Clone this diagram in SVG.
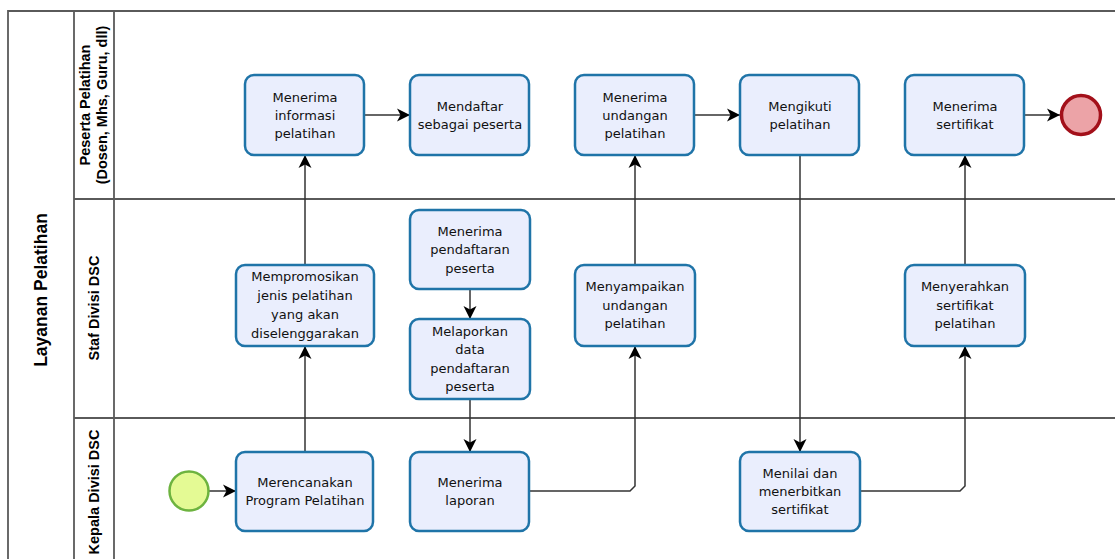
<svg xmlns="http://www.w3.org/2000/svg" width="1115" height="559" viewBox="0 0 1115 559">
<style>
.lane{stroke:#5a5a5a;stroke-width:1.8;fill:none}
.box{fill:#eaeefd;stroke:#1f74a8;stroke-width:2.5}
.t{font-family:"DejaVu Sans",sans-serif;font-size:13px;fill:#111;text-anchor:middle}
.lbl{font-family:"Liberation Sans",Arial,sans-serif;font-weight:bold;font-size:14.5px;fill:#000;text-anchor:middle}
.pool{font-family:"Liberation Sans",Arial,sans-serif;font-weight:bold;font-size:17.5px;fill:#000;text-anchor:middle}
.ca{stroke:#333;stroke-width:1.5;fill:none;marker-end:url(#arr)}
</style>
<defs>
<marker id="arr" markerUnits="userSpaceOnUse" markerWidth="14" markerHeight="14" viewBox="0 0 14 14" refX="13" refY="7" orient="auto">
<path d="M0,0.5 L13,7 L0,13.5 L3.5,7 Z" fill="#000"/>
</marker>
</defs>
<rect width="1115" height="559" fill="#fff"/>
<g id="pool">
<path class="lane" d="M8,559 V11 H1115 M74,11 V559 M114,11 V559 M74,199 H1115 M74,418 H1115"/>
<text class="pool" transform="translate(41,290) rotate(-90)" y="6">Layanan Pelatihan</text>
<text class="lbl" transform="translate(94,105) rotate(-90)"><tspan x="0" y="-4">Peserta Pelatihan</tspan><tspan x="0" y="13">(Dosen, Mhs, Guru, dll)</tspan></text>
<text class="lbl" transform="translate(94,308) rotate(-90)" y="5">Staf Divisi DSC</text>
<text class="lbl" transform="translate(94,492) rotate(-90)" y="5">Kepala Divisi DSC</text>
</g>
<g id="connectors">
<path class="ca" d="M209,491 H236"/>
<path class="ca" d="M305,452 V346"/>
<path class="ca" d="M305,265 V155"/>
<path class="ca" d="M364,115 H410"/>
<path class="ca" d="M470,289 V319"/>
<path class="ca" d="M470,399 V452"/>
<path class="ca" d="M529,491 H630 L635,486 V346"/>
<path class="ca" d="M635,265 V155"/>
<path class="ca" d="M695,115 H740"/>
<path class="ca" d="M800,155 V452"/>
<path class="ca" d="M860,491 H960 L965,486 V346"/>
<path class="ca" d="M965,265 V155"/>
<path class="ca" d="M1025,115 H1060"/>
</g>
<g id="start"><circle cx="189" cy="491" r="19.5" fill="#e4fa94" stroke="#6db33f" stroke-width="2.5"/></g>
<g id="end"><circle cx="1081" cy="115" r="19.5" fill="#eca3a7" stroke="#a3101a" stroke-width="3.5"/></g>
<g id="n1"><rect class="box" x="245" y="75" width="119" height="80" rx="9"/>
<text class="t"><tspan x="305" y="101.5">Menerima</tspan><tspan x="305" y="119.5">informasi</tspan><tspan x="305" y="137.5">pelatihan</tspan></text></g>
<g id="n2"><rect class="box" x="410" y="75" width="119" height="80" rx="9"/>
<text class="t"><tspan x="470" y="110.5">Mendaftar</tspan><tspan x="470" y="128.5">sebagai peserta</tspan></text></g>
<g id="n3"><rect class="box" x="575" y="75" width="119" height="80" rx="9"/>
<text class="t"><tspan x="635" y="101.5">Menerima</tspan><tspan x="635" y="119.5">undangan</tspan><tspan x="635" y="137.5">pelatihan</tspan></text></g>
<g id="n4"><rect class="box" x="740" y="75" width="119" height="80" rx="9"/>
<text class="t"><tspan x="800" y="110.5">Mengikuti</tspan><tspan x="800" y="128.5">pelatihan</tspan></text></g>
<g id="n5"><rect class="box" x="905" y="75" width="119" height="80" rx="9"/>
<text class="t"><tspan x="965" y="110.5">Menerima</tspan><tspan x="965" y="128.5">sertifikat</tspan></text></g>
<g id="n6"><rect class="box" x="236" y="265" width="138" height="81" rx="9"/>
<text class="t"><tspan x="305" y="281">Mempromosikan</tspan><tspan x="305" y="300">jenis pelatihan</tspan><tspan x="305" y="319">yang akan</tspan><tspan x="305" y="338">diselenggarakan</tspan></text></g>
<g id="n7"><rect class="box" x="410" y="210" width="120" height="79" rx="9"/>
<text class="t"><tspan x="470" y="235.5">Menerima</tspan><tspan x="470" y="254">pendaftaran</tspan><tspan x="470" y="272.5">peserta</tspan></text></g>
<g id="n8"><rect class="box" x="410" y="319" width="120" height="80" rx="9"/>
<text class="t"><tspan x="470" y="335.5">Melaporkan</tspan><tspan x="470" y="354">data</tspan><tspan x="470" y="372.5">pendaftaran</tspan><tspan x="470" y="391">peserta</tspan></text></g>
<g id="n9"><rect class="box" x="575" y="265" width="120" height="81" rx="9"/>
<text class="t"><tspan x="635" y="291">Menyampaikan</tspan><tspan x="635" y="309.5">undangan</tspan><tspan x="635" y="328">pelatihan</tspan></text></g>
<g id="n10"><rect class="box" x="905" y="265" width="120" height="81" rx="9"/>
<text class="t"><tspan x="965" y="291">Menyerahkan</tspan><tspan x="965" y="309.5">sertifikat</tspan><tspan x="965" y="328">pelatihan</tspan></text></g>
<g id="n11"><rect class="box" x="236" y="452" width="137" height="79" rx="9"/>
<text class="t"><tspan x="305" y="487">Merencanakan</tspan><tspan x="305" y="505">Program Pelatihan</tspan></text></g>
<g id="n12"><rect class="box" x="410" y="452" width="119" height="79" rx="9"/>
<text class="t"><tspan x="470" y="487">Menerima</tspan><tspan x="470" y="505">laporan</tspan></text></g>
<g id="n13"><rect class="box" x="740" y="452" width="120" height="79" rx="9"/>
<text class="t"><tspan x="800" y="478">Menilai dan</tspan><tspan x="800" y="496">menerbitkan</tspan><tspan x="800" y="514">sertifikat</tspan></text></g>
</svg>
